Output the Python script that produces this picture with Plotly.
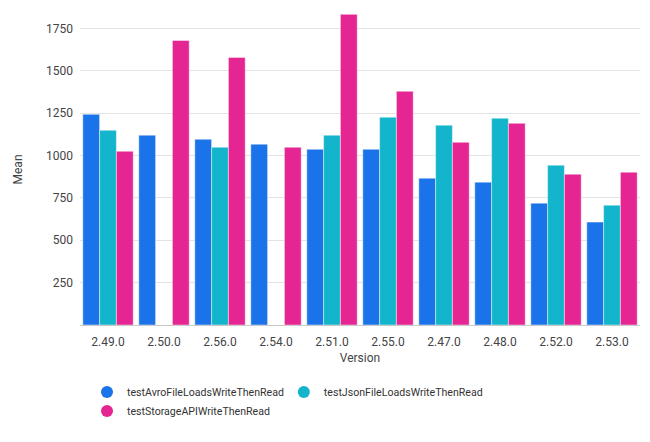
import plotly.graph_objects as go

versions = ["2.49.0", "2.50.0", "2.56.0", "2.54.0", "2.51.0", "2.55.0", "2.47.0", "2.48.0", "2.52.0", "2.53.0"]
avro = [1243, 1120, 1096, 1067, 1037, 1037, 866, 843, 719, 607]
json_vals = [1149, None, 1049, None, 1120, 1226, 1179, 1220, 943, 707]
storage = [1025, 1679, 1579, 1049, 1833, 1379, 1078, 1190, 890, 902]

series = [
    ("testAvroFileLoadsWriteThenRead", avro, "#1a73e8", "legend"),
    ("testJsonFileLoadsWriteThenRead", json_vals, "#12b5cb", "legend3"),
    ("testStorageAPIWriteThenRead", storage, "#e52592", "legend2"),
]

fig = go.Figure()
for name, vals, color, lg in series:
    fig.add_trace(go.Bar(
        x=versions, y=vals, name=name, showlegend=False,
        marker=dict(color=color, line=dict(color="rgba(255,255,255,0.45)", width=1)),
    ))
for name, vals, color, lg in series:
    fig.add_trace(go.Scatter(
        x=[None], y=[None], mode="markers", name=name, legend=lg,
        marker=dict(color=color, size=12, symbol="circle"),
    ))

legend_common = dict(
    orientation="h", xanchor="left", yanchor="middle",
    font=dict(size=10.6, color="#333"),
    itemwidth=30, tracegroupgap=0, bgcolor="rgba(0,0,0,0)",
)

fig.update_layout(
    width=642, height=434,
    margin=dict(l=72, r=10, t=6, b=117, autoexpand=False),
    paper_bgcolor="white", plot_bgcolor="white",
    font=dict(family="Roboto", size=12, color="#444"),
    barmode="group", bargap=0.1, bargroupgap=0,
    xaxis=dict(
        title=dict(text="Version", standoff=5, font=dict(size=12)),
        showline=True, linecolor="#c8c8c8", linewidth=1,
        ticks="", tickfont=dict(size=12), ticklabelstandoff=6,
    ),
    yaxis=dict(
        title=dict(text="Mean", standoff=20, font=dict(size=12)),
        range=[0, 1835], tickvals=[250, 500, 750, 1000, 1250, 1500, 1750],
        gridcolor="#e3e3e3", zeroline=False, showline=False,
        ticks="", tickfont=dict(size=12), ticklabelstandoff=6,
    ),
    legend=dict(x=0.0125, y=-0.2154, **legend_common),
    legend3=dict(x=0.364, y=-0.2154, **legend_common),
    legend2=dict(x=0.0125, y=-0.2765, **legend_common),
)

fig.write_html("out.html")
